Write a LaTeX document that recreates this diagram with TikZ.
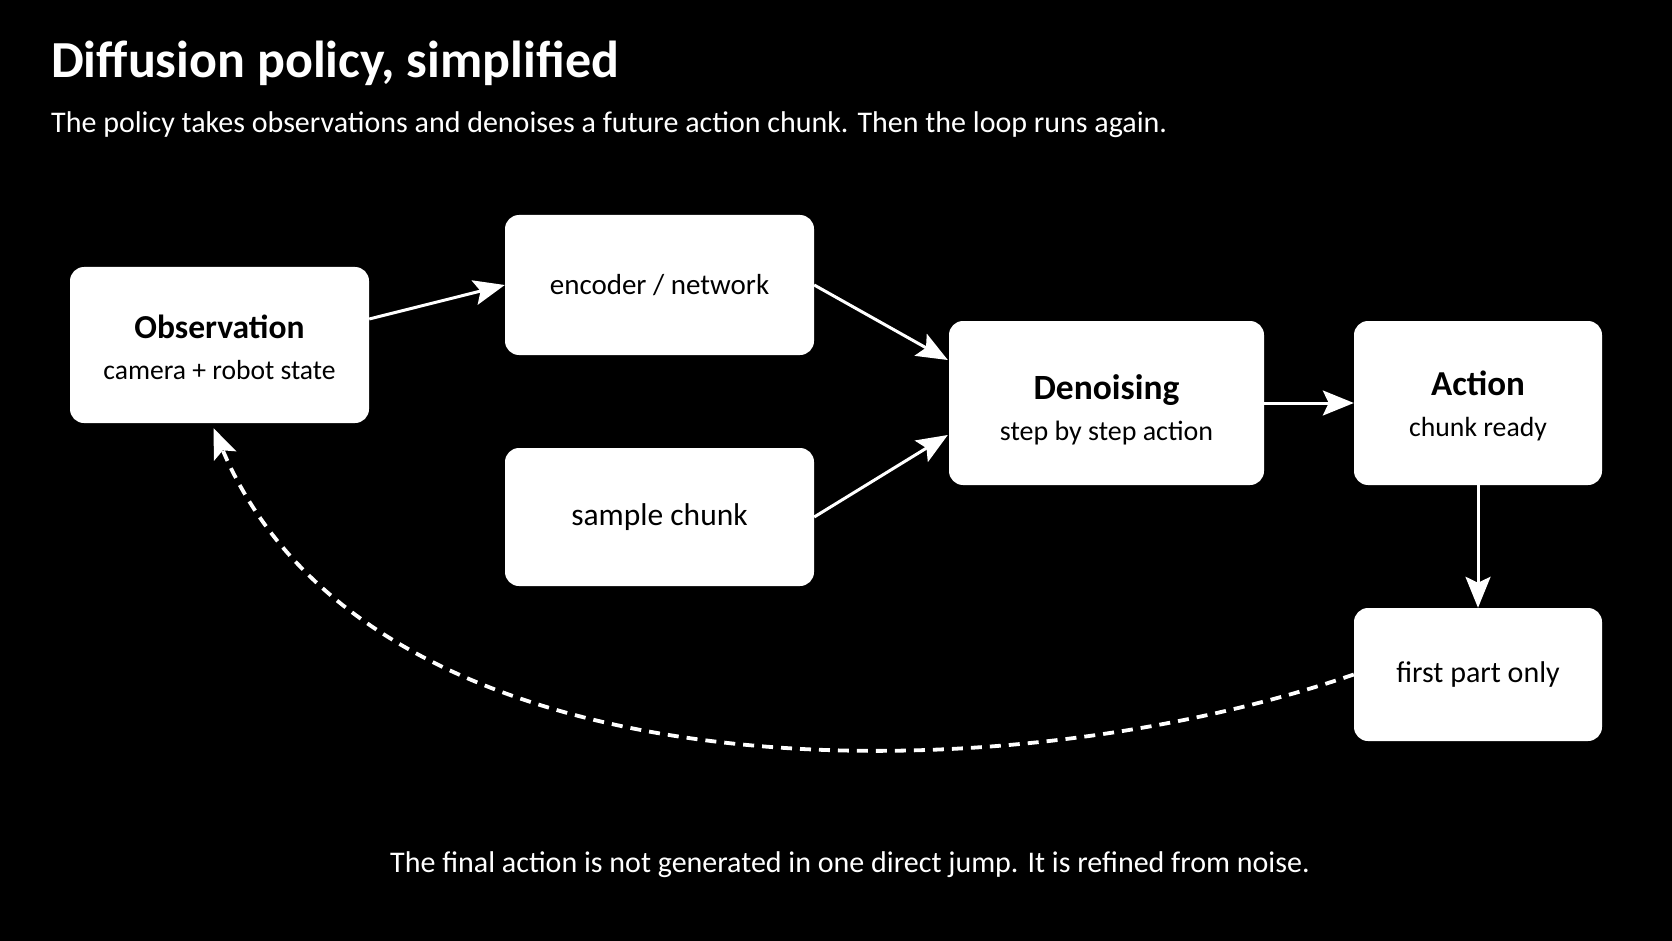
\documentclass[tikz,border=0pt]{standalone}
\usepackage{fontspec}
\setmainfont{Carlito}
\usetikzlibrary{arrows.meta,calc}
\begin{document}
\begin{tikzpicture}[x=1pt,y=-1pt,
  box/.style={rectangle, rounded corners=14pt, fill=white, draw=none, text=black, align=center, inner sep=0pt},
  arr/.style={draw=white, line width=3pt, -{Stealth[length=31pt,width=25pt,inset=6pt]}},
  darr/.style={draw=white, line width=3.8pt, dash pattern=on 11pt off 8pt, -{Stealth[length=30pt,width=24pt,inset=6pt]}}
]
\useasboundingbox (0,0) rectangle (1672,941);
\fill[black] (0,0) rectangle (1672,941);

\node[anchor=base west, inner sep=0pt, text=white, font=\fontsize{52}{56}\selectfont\bfseries] (title) at (51,78) {Diffusion policy, simplified};
\node[anchor=base west, inner sep=0pt, text=white, font=\fontsize{30}{34}\selectfont] (sub) at (51,133) {The policy takes observations and denoises a future action chunk. Then the loop runs again.};

\node[box, minimum width=299pt, minimum height=156pt] (obs) at (219.5,345) {};
\node[text=black, font=\fontsize{33.5}{36}\selectfont\bfseries, anchor=base] (obsT) at (219.5,338) {Observation};
\node[text=black, font=\fontsize{27.6}{30}\selectfont, anchor=base] (obsS) at (219.5,379) {camera + robot state};

\node[box, minimum width=309pt, minimum height=140pt, font=\fontsize{29}{30}\selectfont] (enc) at (659.5,285) {encoder / network};
\node[box, minimum width=309pt, minimum height=138pt, font=\fontsize{31.5}{32}\selectfont] (samp) at (659.5,517) {sample chunk};

\node[box, minimum width=315pt, minimum height=164pt] (den) at (1106.5,403) {};
\node[text=black, font=\fontsize{35.5}{36}\selectfont\bfseries, anchor=base] (denT) at (1106.5,399) {Denoising};
\node[text=black, font=\fontsize{28}{30}\selectfont, anchor=base] (denS) at (1106.5,440) {step by step action};

\node[box, minimum width=248pt, minimum height=164pt] (act) at (1478,403) {};
\node[text=black, font=\fontsize{35}{36}\selectfont\bfseries, anchor=base] (actT) at (1478,395) {Action};
\node[text=black, font=\fontsize{27.7}{30}\selectfont, anchor=base] (actS) at (1478,436) {chunk ready};

\node[box, minimum width=248pt, minimum height=133pt, font=\fontsize{30}{32}\selectfont] (first) at (1478,674.5) {first part only};

\node[anchor=base, text=white, font=\fontsize{30}{32}\selectfont] (foot) at (850,872) {The final action is not generated in one direct jump. It is refined from noise.};

\draw[arr] ($(obs.east)+(0,-26)$) -- (enc.west);
\draw[arr] (enc.east) -- ($(den.west)+(-1,-43)$);
\draw[arr] (samp.east) -- ($(den.west)+(-1,32)$);
\draw[arr] (den.east) -- (act.west);
\draw[arr] (act.south) -- (first.north);
\draw[darr] (first.west) .. controls (989,800) and (370,800) .. ($(obs.south)+(-6,5)$);
\end{tikzpicture}
\end{document}
